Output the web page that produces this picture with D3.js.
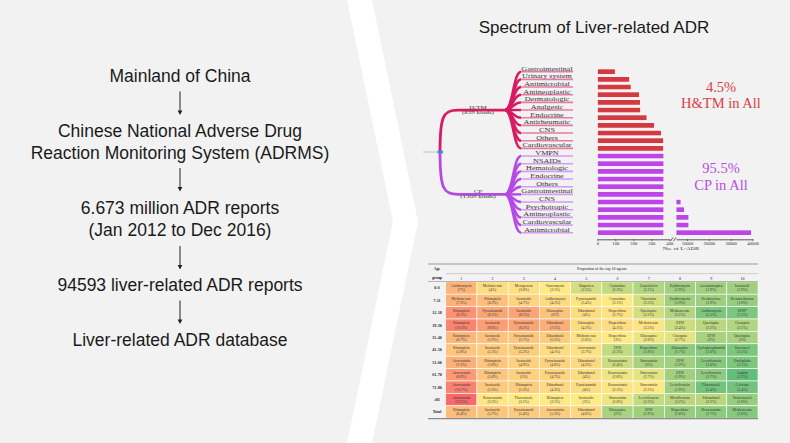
<!DOCTYPE html>
<html><head><meta charset="utf-8">
<script src="https://cdn.jsdelivr.net/npm/d3@7"></script>
<style>html,body{margin:0;padding:0;background:#fff;} svg{display:block;}</style>
</head><body>
<svg id="c" width="790" height="443"></svg>
<script>
// ---------------- DATA ----------------
const flowSteps = [
  ["Mainland of China"],
  ["Chinese National Adverse Drug", "Reaction Monitoring System (ADRMS)"],
  ["6.673 million ADR reports", "(Jan 2012 to Dec 2016)"],
  ["94593 liver-related ADR reports"],
  ["Liver-related ADR database"]
];
const chartTitle = "Spectrum of Liver-related ADR";
const groupNames = ["H/TM", "CP"];
const groupKinds = ["(839 kinds)", "(1309 kinds)"];
const htmCategories = ["Gastrointestinal","Urinary system","Antimicrobial","Antineoplastic","Dermatologic","Analgesic","Endocrine","Antirheumatic","CNS","Others","Cardiovascular"];
const htmValues = [100, 180, 188, 234, 240, 241, 276, 318, 356, 369, 369];
const cpCategories = ["VMPN","NSAIDs","Hematologic","Endocrine","Others","Gastrointestinal","CNS","Psychotropic","Antineoplastic","Cardiovascular","Antimicrobial"];
const cpValues = [1500, 2300, 2700, 3100, 3600, 4400, 7300, 8900, 10900, 10900, 39500];
const leftTicks = [0, 100, 200, 300, 400];
const rightTicks = [10000, 20000, 30000, 40000];
const shareText = [["4.5%", "H&TM in All"], ["95.5%", "CP in All"]];
const axisTitle = "No. of L-ADR";

const tableTitle = "Proportion of the top 10 agents";
const ageGroups = ["0-6","7-11","12-18","19-30","31-40","41-50","51-60","61-70","71-80","\u226581","Total"];
const rankLabels = ["1","2","3","4","5","6","7","8","9","10"];
const drugNames = [
  ["Azithromycin","Methotrexate","Meropenem","Vancomycin","Ibuprofen","Cytarabine","Ganciclovir","Erythromycin","Acetaminophen","Isoniazide"],
  ["Methotrexate","Rifampicin","Isoniazide","Azithromycin","Pyrazinamide","Cytarabine","Vincristine","Erythromycin","Prednisolone","Dexamethasone"],
  ["Rifampicin","Pyrazinamide","Isoniazide","Olanzapine","Ethambutol","Risperidone","Quetiapine","Methotrexate","Azithromycin","EPSI*"],
  ["Rifampicin","Isoniazide","Pyrazinamide","Ethambutol","Olanzapine","Risperidone","Methotrexate","EPSI","Quetiapine","Clozapine"],
  ["Rifampicin","Isoniazide","Pyrazinamide","Ethambutol","Methotrexate","Risperidone","Olanzapine","Clozapine","EPSI","Quetiapine"],
  ["Rifampicin","Isoniazide","Pyrazinamide","Ethambutol","Atorvastatin","EPSI","Risperidone","Olanzapine","Cyclophosphamide","Docetaxel"],
  ["Atorvastatin","Rifampicin","Isoniazide","Pyrazinamide","Ethambutol","Rosuvastatin","Simvastatin","EPSI","Levofloxacin","Oxaliplatin"],
  ["Atorvastatin","Rifampicin","Isoniazide","Pyrazinamide","Ethambutol","Rosuvastatin","Simvastatin","EPSI","Levofloxacin","Aspirin"],
  ["Atorvastatin","Isoniazide","Rifampicin","Ethambutol","Pyrazinamide","Rosuvastatin","Simvastatin","Levofloxacin","Fluconazole","Cefixime"],
  ["Atorvastatin","Rosuvastatin","Fluconazole","Rifampicin","Isoniazide","Simvastatin","Levofloxacin","Moxifloxacin","Ethambutol","Voriconazole"],
  ["Rifampicin","Isoniazide","Pyrazinamide","Atorvastatin","Ethambutol","Olanzapine","EPSI","Risperidone","Rosuvastatin","Methotrexate"]
];
const drugPct = [
  [7.0, 4.0, 3.8, 3.1, 2.5, 2.3, 2.1, 1.9, 1.9, 1.9],
  [7.2, 6.2, 4.7, 4.2, 3.4, 3.1, 2.5, 1.9, 1.9, 1.8],
  [9.5, 8.1, 8.1, 6.0, 4.0, 3.7, 2.5, 2.1, 1.5, 1.5],
  [10.5, 8.6, 8.2, 7.5, 4.2, 4.1, 3.5, 2.4, 2.2, 2.1],
  [6.7, 5.9, 5.7, 5.2, 3.6, 3.0, 2.8, 2.7, 2.0, 2.0],
  [5.8, 5.3, 5.2, 4.1, 3.7, 2.3, 1.8, 1.7, 1.6, 1.5],
  [7.3, 5.8, 4.9, 4.8, 4.3, 2.4, 2.0, 1.9, 1.6, 1.5],
  [8.9, 5.8, 5.0, 4.7, 4.0, 2.8, 2.7, 1.9, 1.7, 1.2],
  [10.7, 5.5, 5.3, 4.3, 4.0, 3.5, 3.3, 1.9, 1.4, 1.4],
  [12.5, 3.3, 3.1, 3.1, 3.0, 2.8, 2.3, 2.2, 2.2, 1.8],
  [6.4, 5.7, 5.4, 5.3, 4.6, 2.0, 1.9, 1.8, 1.7, 1.6]
];

// ---------------- DRAW ----------------
const svg = d3.select("#c");
const SANS = "'Liberation Sans', Arial, sans-serif";
const SERIF = "'Liberation Serif', 'Times New Roman', serif";

svg.append("rect").attr("width", 790).attr("height", 443).attr("fill", "#ffffff");
svg.append("polygon").attr("points", "0,0 347,0 393,221.5 347,443 0,443").attr("fill", "#f2f2f2");
svg.append("polygon").attr("points", "372,0 790,0 790,443 372,443 418,221.5").attr("fill", "#f2f2f2");

// ---- left flow ----
const flowY = [[76], [131, 153.3], [208.3, 230], [285], [340]];
const arrowY = [[91.5, 115], [168, 191.5], [246, 269.5], [300.5, 324]];
const flow = svg.append("g");
flowSteps.forEach((lines, i) => {
  lines.forEach((t, j) => {
    flow.append("text").attr("x", 180).attr("y", flowY[i][j])
      .attr("text-anchor", "middle").attr("dominant-baseline", "central")
      .attr("font-family", SANS).attr("font-size", 17.5).attr("fill", "#1a1a1a").text(t);
  });
});
arrowY.forEach(([a, b]) => {
  flow.append("line").attr("x1", 180).attr("x2", 180).attr("y1", a).attr("y2", b - 3)
    .attr("stroke", "#222").attr("stroke-width", 1);
  flow.append("path").attr("d", `M177.6,${b - 4.5} L182.4,${b - 4.5} L180,${b} Z`).attr("fill", "#222");
});

// ---- title ----
svg.append("text").attr("x", 594).attr("y", 27.5).attr("text-anchor", "middle")
  .attr("dominant-baseline", "central").attr("font-family", SANS).attr("font-size", 17)
  .attr("fill", "#1a1a1a").text(chartTitle);

// ---- tree + bars ----
const allCats = htmCategories.concat(cpCategories);
const yLeaf = d3.scalePoint().domain(d3.range(allCats.length)).range([71.7, 232.7]);
const groupColors = ["#d81b60", "#b649e6"];
const leafColors = ["#e97aa4", "#d59bf0"];
const barColors = ["#d03a40", "#bb45e6"];
const rootX = 440, rootY = 152, nodeX1 = 458, nodeX2 = 505, leafX1 = 521, leafX2 = 573;
const tree = svg.append("g");
tree.append("line").attr("x1", 423).attr("x2", rootX).attr("y1", rootY).attr("y2", rootY)
  .attr("stroke", "#c8c8c8").attr("stroke-width", 1.2);

const groups = [htmCategories, cpCategories];
groups.forEach((cats, gi) => {
  const offset = gi === 0 ? 0 : htmCategories.length;
  const nodeY = yLeaf(offset + Math.floor(cats.length / 2));
  const c = groupColors[gi];
  // root to group node
  tree.append("path")
    .attr("d", `M${rootX},${rootY} C${rootX},${(rootY + nodeY) / 2 + (nodeY - rootY) * 0.35} ${rootX + 3},${nodeY} ${nodeX1},${nodeY} L${nodeX2},${nodeY}`)
    .attr("fill", "none").attr("stroke", c).attr("stroke-width", 2.8);
  // group labels
  [groupNames[gi], groupKinds[gi]].forEach((t, k) => {
    tree.append("text").attr("transform", `translate(478,${nodeY - 1.2 + k * 5.2}) scale(1.4,1)`)
      .attr("text-anchor", "middle").attr("font-family", SERIF).attr("font-size", 5)
      .attr("fill", "#333").text(t);
  });
  const link = d3.linkHorizontal().x(d => d[0]).y(d => d[1]);
  cats.forEach((cat, i) => {
    const ly = yLeaf(offset + i);
    tree.append("path").attr("d", link({source: [nodeX2, nodeY], target: [leafX1, ly]}))
      .attr("fill", "none").attr("stroke", c).attr("stroke-width", 2.4);
    tree.append("line").attr("x1", leafX1).attr("x2", leafX2).attr("y1", ly).attr("y2", ly)
      .attr("stroke", leafColors[gi]).attr("stroke-width", 1.6);
    tree.append("text").attr("transform", `translate(547,${ly - 1.1}) scale(1.45,1)`)
      .attr("text-anchor", "middle").attr("font-family", SERIF).attr("font-size", 5.6)
      .attr("fill", "#333").text(cat);
  });
});
// root marker
tree.append("rect").attr("x", 437.5).attr("y", 150.6).attr("width", 5.5).attr("height", 2.8).attr("fill", "#3a8de0");

// scales for broken axis
const xLeft = d3.scaleLinear().domain([0, 400]).range([597.3, 669.3]);
const xRight = d3.scaleLinear().domain([5000, 40000]).range([676, 752.5]);
const leftCap = 370;
const bh = 5.6;
const bars = svg.append("g");
const allVals = htmValues.concat(cpValues);
allVals.forEach((v, i) => {
  const gi = i < htmValues.length ? 0 : 1;
  const y = yLeaf(i);
  bars.append("rect").attr("x", xLeft(0)).attr("y", y - bh / 2)
    .attr("width", xLeft(Math.min(v, leftCap)) - xLeft(0)).attr("height", bh)
    .attr("fill", barColors[gi]).attr("stroke", "#fff").attr("stroke-width", 0.8);
  if (v > xRight.domain()[0]) {
    bars.append("rect").attr("x", xRight(xRight.domain()[0])).attr("y", y - bh / 2)
      .attr("width", xRight(v) - xRight(xRight.domain()[0])).attr("height", bh)
      .attr("fill", barColors[gi]).attr("stroke", "#fff").attr("stroke-width", 0.8);
  }
});
const axisY = 239.3;
function styleAxis(g) {
  g.selectAll("path").attr("stroke", "#333").attr("stroke-width", 0.8);
  g.selectAll("line").attr("stroke", "#333").attr("stroke-width", 0.8);
  g.selectAll("text").attr("font-family", SERIF).attr("font-size", 4.6).attr("fill", "#333");
}
svg.append("g").attr("transform", `translate(0,${axisY})`)
  .call(d3.axisBottom(xLeft).tickValues(leftTicks).tickSize(1.5).tickSizeOuter(0).tickPadding(1.2).tickFormat(d3.format("d")))
  .call(styleAxis);
svg.append("g").attr("transform", `translate(0,${axisY})`)
  .call(d3.axisBottom(xRight).tickValues(rightTicks).tickSize(1.5).tickSizeOuter(0).tickPadding(1.2).tickFormat(d3.format("d")))
  .call(styleAxis);
svg.append("path").attr("d", `M670.5,${axisY + 1.8} L673,${axisY - 1.8} M673.5,${axisY + 1.8} L676,${axisY - 1.8}`)
  .attr("stroke", "#333").attr("stroke-width", 0.8);
svg.append("text").attr("transform", `translate(681,${axisY + 10.5}) scale(1.3,1)`).attr("text-anchor", "middle")
  .attr("font-family", SERIF).attr("font-size", 4.8).attr("fill", "#333").text(axisTitle);

// share labels
const shareY = [[86.7, 103.3], [167.7, 185]];
const shareC = ["#d9403f", "#b54ee6"];
shareText.forEach((lines, gi) => {
  lines.forEach((t, k) => {
    svg.append("text").attr("x", 721).attr("y", shareY[gi][k]).attr("text-anchor", "middle")
      .attr("dominant-baseline", "central").attr("font-family", SERIF).attr("font-size", 14.5)
      .attr("fill", shareC[gi]).text(t);
  });
});

// ---- heat table ----
const tbl = svg.append("g");
const tLeft = 428, tRight = 758, cLeft = 445.7;
const xCol = d3.scaleBand().domain(d3.range(rankLabels.length)).range([cLeft, tRight]);
const yRow = d3.scaleBand().domain(ageGroups).range([281.8, 418.2]);
const allPct = drugPct.flat();
const heat = d3.scaleLinear().domain([d3.min(allPct), 3.0, d3.max(allPct)])
  .range(["#63be7b", "#ffeb84", "#f8696b"]).interpolate(d3.interpolateRgb);
const fmt = v => "(" + (Number.isInteger(v) ? v : v.toFixed(1)) + "%)";

ageGroups.forEach((g, r) => {
  const y0 = yRow(g), h = yRow.bandwidth();
  tbl.append("text").attr("x", 437).attr("y", y0 + h / 2 + 1.4).attr("text-anchor", "middle")
    .attr("font-family", SERIF).attr("font-size", 4).attr("font-weight", "bold").attr("fill", "#222").text(g);
  drugNames[r].forEach((d, c) => {
    const x0 = xCol(c), w = xCol.bandwidth();
    tbl.append("rect").attr("x", x0).attr("y", y0).attr("width", w).attr("height", h)
      .attr("fill", heat(drugPct[r][c])).attr("stroke", "#ffffff").attr("stroke-width", 0.6);
    tbl.append("text").attr("x", x0 + w / 2).attr("y", y0 + h / 2 - 0.8).attr("text-anchor", "middle")
      .attr("font-family", SERIF).attr("font-size", 3.7).attr("fill", "#333").text(d);
    tbl.append("text").attr("x", x0 + w / 2).attr("y", y0 + h / 2 + 3.4).attr("text-anchor", "middle")
      .attr("font-family", SERIF).attr("font-size", 3.7).attr("fill", "#333").text(fmt(drugPct[r][c]));
  });
});
// header
tbl.append("line").attr("x1", tLeft).attr("x2", tRight).attr("y1", 264).attr("y2", 264).attr("stroke", "#9a9a9a").attr("stroke-width", 1.2);
tbl.append("line").attr("x1", cLeft).attr("x2", tRight).attr("y1", 273.6).attr("y2", 273.6).attr("stroke", "#b5b5b5").attr("stroke-width", 0.6);
tbl.append("line").attr("x1", tLeft).attr("x2", tRight).attr("y1", 281.5).attr("y2", 281.5).attr("stroke", "#9a9a9a").attr("stroke-width", 0.7);
tbl.append("line").attr("x1", tLeft).attr("x2", tRight).attr("y1", 418.6).attr("y2", 418.6).attr("stroke", "#8a8a8a").attr("stroke-width", 1.3);
tbl.append("text").attr("x", 437).attr("y", 270.4).attr("text-anchor", "middle").attr("font-family", SERIF)
  .attr("font-size", 4).attr("font-weight", "bold").attr("fill", "#222").text("Age");
tbl.append("text").attr("x", 437).attr("y", 279.4).attr("text-anchor", "middle").attr("font-family", SERIF)
  .attr("font-size", 4).attr("font-weight", "bold").attr("fill", "#222").text("group");
tbl.append("text").attr("x", (cLeft + tRight) / 2).attr("y", 270.4).attr("text-anchor", "middle").attr("font-family", SERIF)
  .attr("font-size", 4).attr("fill", "#222").text(tableTitle);
rankLabels.forEach((t, c) => {
  tbl.append("text").attr("x", xCol(c) + xCol.bandwidth() / 2).attr("y", 279.6).attr("text-anchor", "middle")
    .attr("font-family", SERIF).attr("font-size", 4).attr("fill", "#222").text(t);
});
</script>
</body></html>
